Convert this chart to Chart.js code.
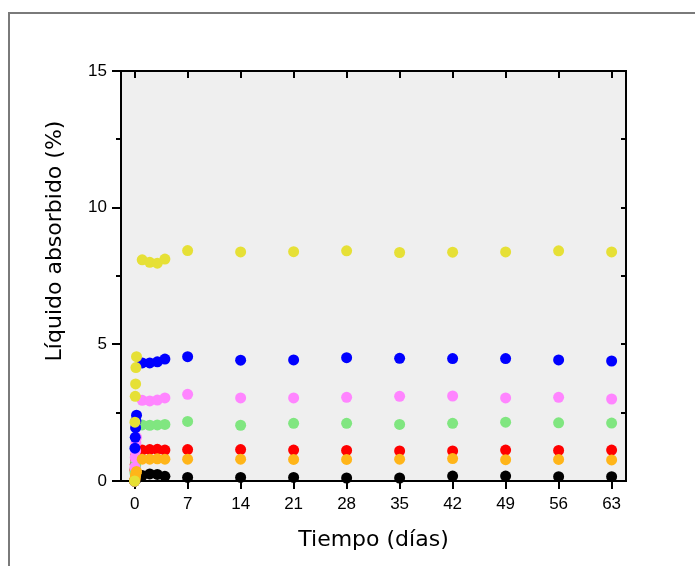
<!DOCTYPE html>
<html>
<head>
<meta charset="utf-8">
<script src="https://cdn.jsdelivr.net/npm/chart.js@4.4.0/dist/chart.umd.min.js"></script>
<style>
  html, body { margin: 0; padding: 0; background: #fff; }
  #wrap { position: relative; width: 695px; height: 566px; overflow: hidden; }
  #frame { position: absolute; left: 8px; top: 12px; width: 720px; height: 620px; border: 2px solid #7a7a7a; }
  canvas { position: absolute; left: 0; top: 0; }
</style>
</head>
<body>
<div id="wrap"><div id="frame"></div><canvas id="absorcion" width="695" height="566"></canvas></div>
<script>
// tiempos de medida (días); las primeras lecturas son horas del primer día
const dias = [0, 0.04, 0.08, 0.13, 0.17, 0.25, 1, 2, 3, 4, 7, 14, 21, 28, 35, 42, 49, 56, 63];

const amarillo = [0, 2.15, 3.1, 3.55, 4.15, 4.55, 8.09, 8.0, 7.97, 8.12, 8.43, 8.38, 8.39, 8.42, 8.36, 8.37, 8.38, 8.42, 8.38];
const azul     = [0, 1.2, 1.6, 1.95, 2.2, 2.41, 4.32, 4.32, 4.36, 4.46, 4.55, 4.42, 4.43, 4.51, 4.49, 4.48, 4.48, 4.43, 4.39];
const rosa     = [0, 0.5, 0.86, 1.1, 1.4, 1.6, 2.95, 2.93, 2.96, 3.04, 3.17, 3.04, 3.04, 3.06, 3.10, 3.11, 3.04, 3.06, 3.0];
const verde    = [0, 0.3, 0.45, 0.58, 0.7, 0.8, 2.05, 2.04, 2.05, 2.07, 2.18, 2.04, 2.11, 2.11, 2.07, 2.11, 2.15, 2.13, 2.12];
const rojo     = [0, 0.4, 0.6, 0.8, 0.95, 1.05, 1.13, 1.15, 1.16, 1.13, 1.15, 1.15, 1.13, 1.12, 1.10, 1.10, 1.13, 1.12, 1.13];
const naranja  = [0, 0.05, 0.12, 0.2, 0.28, 0.35, 0.8, 0.8, 0.81, 0.8, 0.80, 0.80, 0.79, 0.79, 0.80, 0.82, 0.78, 0.79, 0.77];
const negro    = [0, 0.02, 0.04, 0.06, 0.08, 0.1, 0.2, 0.26, 0.24, 0.17, 0.13, 0.13, 0.13, 0.11, 0.11, 0.18, 0.18, 0.16, 0.16];

const xTicks = [0, 7, 14, 21, 28, 35, 42, 49, 56, 63];
const yTicks = [0, 5, 10, 15];
const yMinor = [2.5, 7.5, 12.5];
const yRight = [2.5, 5, 7.5, 10, 12.5];

function serie(vals, color) {
  return {
    data: vals.map((v, i) => ({ x: dias[i], y: v })),
    backgroundColor: color,
    borderWidth: 0,
    pointRadius: 5.5,
    pointHoverRadius: 5.5,
    clip: false
  };
}

// fondo del área, marco superior/derecho, ticks menores y título del eje Y
const marco = {
  id: 'marco',
  beforeDraw(chart) {
    const { ctx, chartArea: a } = chart;
    ctx.save();
    ctx.fillStyle = '#efefef';
    ctx.fillRect(a.left, a.top, a.right - a.left, a.bottom - a.top);
    ctx.restore();
  },
  beforeDatasetsDraw(chart) {
    const { ctx, chartArea: a, scales } = chart;
    ctx.save();
    ctx.strokeStyle = '#000';
    ctx.lineWidth = 2;
    ctx.beginPath();
    ctx.moveTo(a.left, a.top);
    ctx.lineTo(a.right, a.top);
    ctx.lineTo(a.right, a.bottom);
    xTicks.forEach(v => {
      const px = Math.round(scales.x.getPixelForValue(v));
      ctx.moveTo(px, a.top);
      ctx.lineTo(px, a.top + 7);
    });
    yRight.forEach(v => {
      const py = Math.round(scales.y.getPixelForValue(v));
      ctx.moveTo(a.right, py);
      ctx.lineTo(a.right - 5, py);
    });
    yMinor.forEach(v => {
      const py = Math.round(scales.y.getPixelForValue(v));
      ctx.moveTo(a.left, py);
      ctx.lineTo(a.left - 5, py);
    });
    ctx.stroke();
    ctx.restore();
  },
  afterDraw(chart) {
    const { ctx } = chart;
    ctx.save();
    ctx.translate(61, 241);
    ctx.rotate(-Math.PI / 2);
    ctx.fillStyle = '#000';
    ctx.font = '22px "DejaVu Sans"';
    ctx.textAlign = 'center';
    ctx.textBaseline = 'alphabetic';
    ctx.fillText('Líquido absorbido (%)', 0, 0);
    ctx.restore();
  }
};

const ctx = document.getElementById('absorcion').getContext('2d');
const grafico = new Chart(ctx, {
  type: 'scatter',
  data: {
    datasets: [
      serie(amarillo, '#e6e036'),
      serie(naranja, '#ffb519'),
      serie(azul, '#0000ff'),
      serie(rosa, '#ff85ff'),
      serie(verde, '#80e680'),
      serie(rojo, '#ff0000'),
      serie(negro, '#000000')
    ]
  },
  plugins: [marco],
  options: {
    responsive: false,
    animation: false,
    events: [],
    layout: { padding: { left: 0, top: 71, right: 69, bottom: 0 } },
    plugins: {
      legend: { display: false },
      tooltip: { enabled: false }
    },
    scales: {
      x: {
        type: 'linear',
        min: -1.8,
        max: 64.9,
        afterBuildTicks: s => { s.ticks = xTicks.map(v => ({ value: v })); },
        afterFit: s => { s.height = 85; },
        grid: { drawOnChartArea: false, tickLength: 8, color: '#000', lineWidth: 2 },
        border: { display: true, color: '#000', width: 2 },
        ticks: {
          color: '#000',
          font: { family: 'Liberation Sans', size: 17 },
          padding: 5,
          maxRotation: 0,
          autoSkip: false
        },
        title: {
          display: true,
          text: 'Tiempo (días)',
          color: '#000',
          font: { family: 'DejaVu Sans', size: 22 },
          padding: { top: 0, bottom: 13 }
        }
      },
      y: {
        min: 0,
        max: 15,
        afterBuildTicks: s => { s.ticks = yTicks.map(v => ({ value: v })); },
        afterFit: s => { s.width = 121; },
        grid: { drawOnChartArea: false, tickLength: 9, color: '#000', lineWidth: 2 },
        border: { display: true, color: '#000', width: 2 },
        ticks: {
          color: '#000',
          font: { family: 'Liberation Sans', size: 17 },
          padding: 5
        }
      }
    }
  }
});
</script>
</body>
</html>
